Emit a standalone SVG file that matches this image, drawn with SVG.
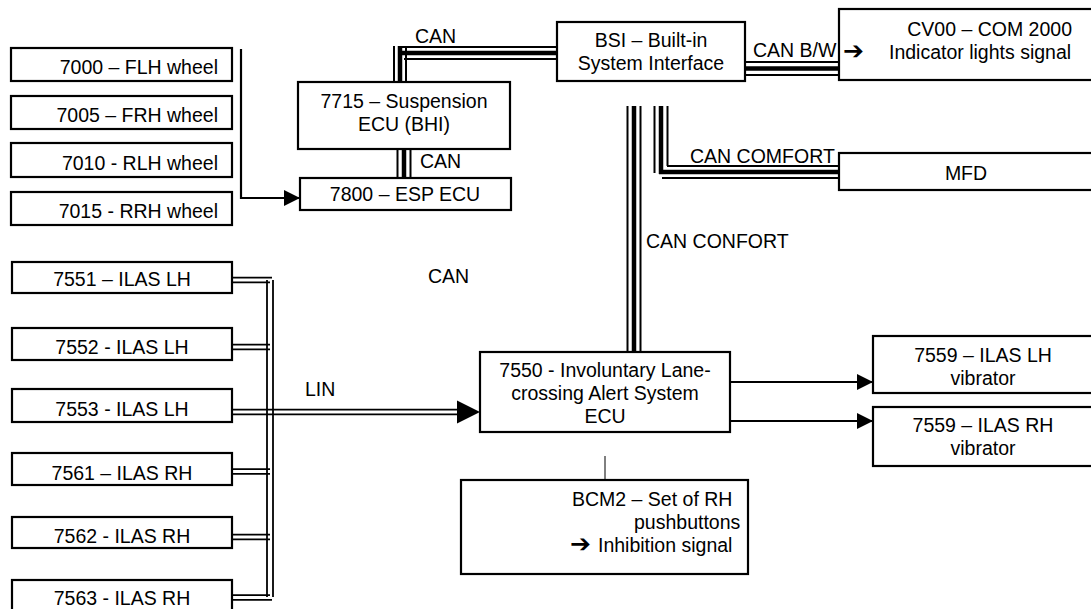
<svg xmlns="http://www.w3.org/2000/svg" width="1091" height="609" viewBox="0 0 1091 609">
<defs>
<marker id="arr" markerUnits="userSpaceOnUse" markerWidth="16" markerHeight="16" refX="16" refY="8" orient="auto" viewBox="0 0 16 16"><path d="M0,0 L16,8 L0,16 z" fill="#000"/></marker>
</defs>
<style>
.box{fill:#fff;stroke:#000;stroke-width:2.2}
text{font-family:"Liberation Sans",Arial,sans-serif;font-size:19.5px;fill:#000}
.m{text-anchor:middle}
.e{text-anchor:end}
.ln{stroke:#000;stroke-width:2.2;fill:none}
.hair{stroke:#000;stroke-width:1;fill:none}
.t{stroke:#000;stroke-width:2;fill:none}
.k{stroke:#000;stroke-width:4.5;fill:none}
.d{stroke:#000;stroke-width:1.8;fill:none}
.sym{font-family:"DejaVu Sans",sans-serif;font-size:25px;font-weight:bold}
</style>
<rect width="1091" height="609" fill="#fff"/>

<g id="n7000"><rect class="box" x="11" y="48" width="221" height="33"/><text class="e" x="218" y="74">7000 – FLH wheel</text></g>
<g id="n7005"><rect class="box" x="11" y="96" width="221" height="33"/><text class="e" x="218" y="121.5">7005 – FRH wheel</text></g>
<g id="n7010"><rect class="box" x="11" y="143" width="221" height="34"/><text class="e" x="218" y="170">7010 - RLH wheel</text></g>
<g id="n7015"><rect class="box" x="11" y="192" width="221" height="33"/><text class="e" x="218" y="218">7015 - RRH wheel</text></g>

<g id="n7715"><rect class="box" x="298" y="82" width="212" height="67"/><text class="m" x="404" y="108">7715 – Suspension</text><text class="m" x="404" y="131">ECU (BHI)</text></g>
<g id="n7800"><rect class="box" x="300" y="178" width="211" height="32"/><text class="m" x="405" y="201">7800 – ESP ECU</text></g>
<g id="bsi"><rect class="box" x="557" y="22" width="188" height="59"/><text class="m" x="651" y="47">BSI – Built-in</text><text class="m" x="651" y="70">System Interface</text></g>
<g id="cv00"><rect class="box" x="839" y="9" width="254" height="71"/><text class="e" x="1072" y="36">CV00 – COM 2000</text><text y="59"><tspan class="sym" x="843">➔</tspan><tspan x="889">Indicator lights signal</tspan></text></g>
<g id="mfd"><rect class="box" x="839" y="153" width="254" height="37"/><text class="m" x="966" y="180">MFD</text></g>

<g id="n7551"><rect class="box" x="12" y="262" width="220" height="31"/><text class="m" x="122" y="286">7551 – ILAS LH</text></g>
<g id="n7552"><rect class="box" x="12" y="328" width="220" height="32"/><text class="m" x="122" y="354">7552 - ILAS LH</text></g>
<g id="n7553"><rect class="box" x="12" y="389" width="220" height="33"/><text class="m" x="122" y="416">7553 - ILAS LH</text></g>
<g id="n7561"><rect class="box" x="12" y="453" width="220" height="32"/><text class="m" x="122" y="480">7561 – ILAS RH</text></g>
<g id="n7562"><rect class="box" x="12" y="517" width="220" height="31"/><text class="m" x="122" y="543">7562 - ILAS RH</text></g>
<g id="n7563"><rect class="box" x="12" y="580" width="220" height="33"/><text class="m" x="122" y="605">7563 - ILAS RH</text></g>

<g id="n7550"><rect class="box" x="480" y="352" width="250" height="80"/><text class="m" x="605" y="377">7550 - Involuntary Lane-</text><text class="m" x="605" y="400">crossing Alert System</text><text class="m" x="605" y="423">ECU</text></g>
<g id="n7559lh"><rect class="box" x="873" y="336" width="220" height="57"/><text class="m" x="983" y="362">7559 – ILAS LH</text><text class="m" x="983" y="385">vibrator</text></g>
<g id="n7559rh"><rect class="box" x="873" y="407" width="220" height="59"/><text class="m" x="983" y="432">7559 – ILAS RH</text><text class="m" x="983" y="455">vibrator</text></g>
<g id="bcm2"><rect class="box" x="461" y="480" width="287" height="94"/><text x="572" y="506">BCM2 – Set of RH</text><text x="634" y="529">pushbuttons</text><text y="552"><tspan class="sym" x="570">➔</tspan><tspan x="598">Inhibition signal</tspan></text></g>

<g id="connectors">
<line class="ln" x1="241" y1="49" x2="241" y2="199"/>
<line class="ln" x1="241" y1="198" x2="300" y2="198" marker-end="url(#arr)"/>
<line class="t" x1="400" y1="47" x2="557" y2="47"/>
<line class="k" x1="400" y1="53" x2="557" y2="53"/>
<line class="t" x1="404" y1="59" x2="557" y2="59"/>
<line class="t" x1="394" y1="46" x2="394" y2="82"/>
<line class="k" x1="400" y1="46" x2="400" y2="82"/>
<line class="t" x1="406" y1="47" x2="406" y2="82"/>
<text x="415" y="43">CAN</text>
<line class="t" x1="397.5" y1="149" x2="397.5" y2="178"/>
<line class="k" x1="404" y1="149" x2="404" y2="178"/>
<line class="t" x1="410.5" y1="149" x2="410.5" y2="178"/>
<text x="420" y="168">CAN</text>
<line class="t" x1="745" y1="62" x2="839" y2="62"/>
<line class="k" x1="745" y1="68.5" x2="839" y2="68.5"/>
<line class="t" x1="745" y1="75" x2="839" y2="75"/>
<text x="753" y="57">CAN B/W</text>
<line class="t" x1="654.5" y1="106" x2="654.5" y2="173"/>
<line class="k" x1="661" y1="106" x2="661" y2="174"/>
<line class="t" x1="667.5" y1="106" x2="667.5" y2="166"/>
<line class="t" x1="667" y1="166" x2="839" y2="166"/>
<line class="k" x1="659" y1="172" x2="839" y2="172"/>
<line class="t" x1="662" y1="178" x2="839" y2="178"/>
<text x="690" y="163">CAN COMFORT</text>
<line class="t" x1="627.5" y1="106" x2="627.5" y2="352"/>
<line class="k" x1="634" y1="106" x2="634" y2="352"/>
<line class="t" x1="640.5" y1="106" x2="640.5" y2="352"/>
<text x="646" y="248">CAN CONFORT</text>
<text x="428" y="283">CAN</text>
<line class="d" x1="267" y1="280" x2="267" y2="597"/>
<line class="d" x1="273" y1="280" x2="273" y2="597"/>
<line class="d" x1="232" y1="277.7" x2="272" y2="277.7"/>
<line class="d" x1="232" y1="282.3" x2="270" y2="282.3"/>
<line class="d" x1="232" y1="344.7" x2="270" y2="344.7"/>
<line class="d" x1="232" y1="349.3" x2="270" y2="349.3"/>
<line class="d" x1="232" y1="469.2" x2="270" y2="469.2"/>
<line class="d" x1="232" y1="473.8" x2="270" y2="473.8"/>
<line class="d" x1="232" y1="534.7" x2="270" y2="534.7"/>
<line class="d" x1="232" y1="539.3" x2="270" y2="539.3"/>
<line class="d" x1="232" y1="595.2" x2="270" y2="595.2"/>
<line class="d" x1="232" y1="599.8" x2="272" y2="599.8"/>
<line class="d" x1="232" y1="409.7" x2="460" y2="409.7"/>
<line class="d" x1="232" y1="414.3" x2="460" y2="414.3"/>
<polygon points="457,400.5 480,412 457,423.5" fill="#000"/>
<text x="305" y="396">LIN</text>
<line class="ln" x1="730" y1="382" x2="873" y2="382" marker-end="url(#arr)"/>
<line class="ln" x1="730" y1="421" x2="873" y2="421" marker-end="url(#arr)"/>
<line class="hair" x1="605" y1="456" x2="605" y2="480"/>
</g>
</svg>
